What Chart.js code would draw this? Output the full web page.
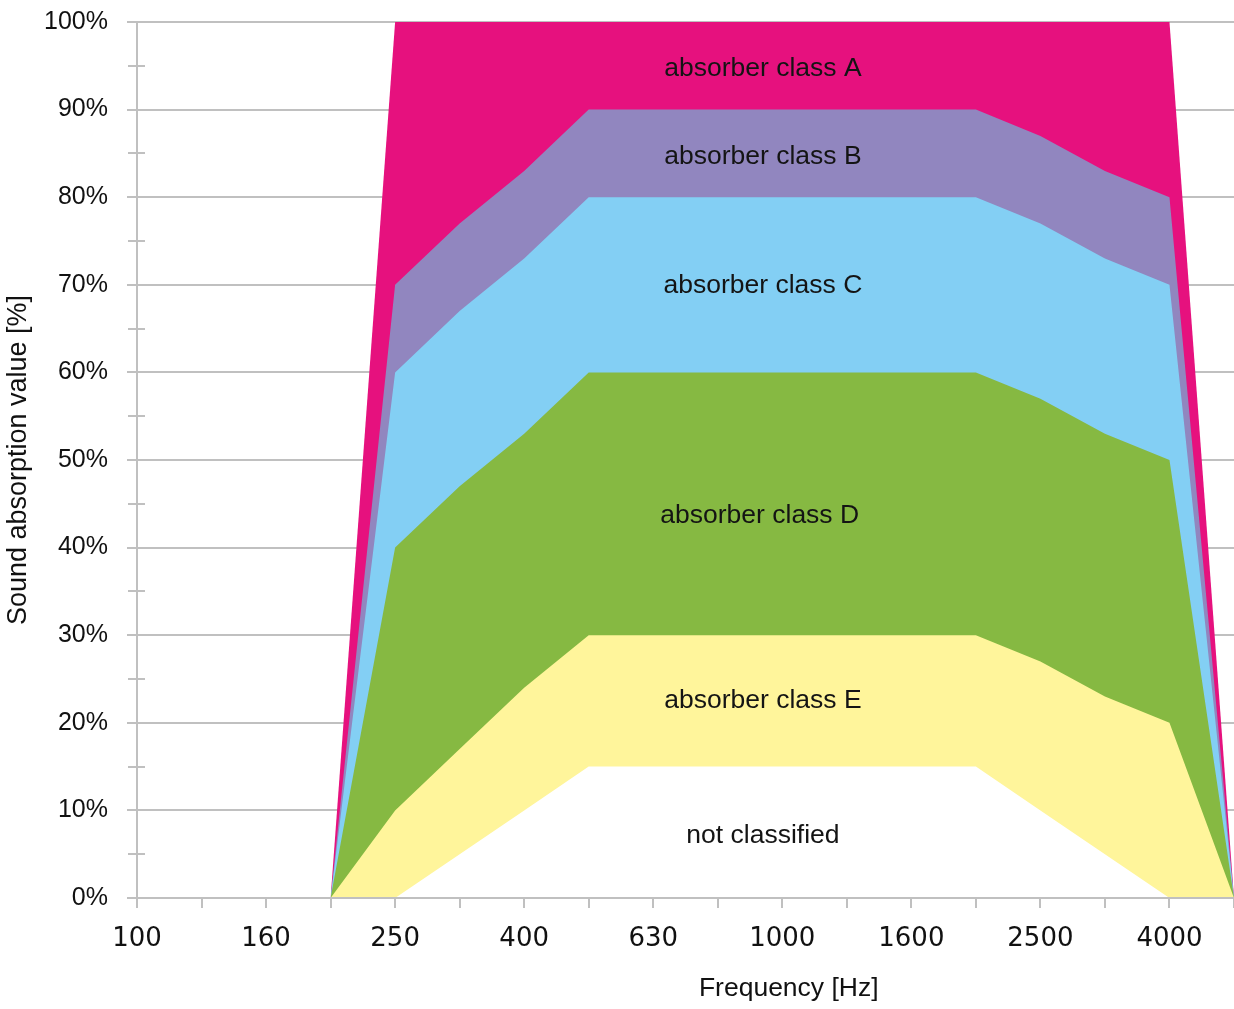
<!DOCTYPE html>
<html>
<head>
<meta charset="utf-8">
<script src="https://cdn.jsdelivr.net/npm/chart.js@4/dist/chart.umd.min.js"></script>
<style>
  html, body { margin: 0; padding: 0; background: #fff; }
  #wrap { width: 1234px; height: 1009px; }
</style>
</head>
<body>
<div id="wrap"><canvas id="chart"></canvas></div>
<script>
const freqs = ['100','125','160','200','250','315','400','500','630','800','1000','1250','1600','2000','2500','3150','4000','5000'];
const n = null;
const classA = [n,n,n,0,100,100,100,100,100,100,100,100,100,100,100,100,100,0];
const classB = [n,n,n,0,70,77,83,90,90,90,90,90,90,90,87,83,80,0];
const classC = [n,n,n,0,60,67,73,80,80,80,80,80,80,80,77,73,70,0];
const classD = [n,n,n,0,40,47,53,60,60,60,60,60,60,60,57,53,50,0];
const classE = [n,n,n,0,10,17,24,30,30,30,30,30,30,30,27,23,20,0];
const notClassified = [n,n,n,0,0,5,10,15,15,15,15,15,15,15,10,5,0,0];

// area labels: text, x (category index), y (%)
const areaTexts = ['absorber class A','absorber class B','absorber class C','absorber class D','absorber class E','not classified'];
const areaX = [9.7, 9.7, 9.7, 9.65, 9.7, 9.7];
const areaY = [94.7, 84.6, 69.9, 43.6, 22.5, 7.1];

const gridGray = '#c0c0c0';
const textFont = '"Liberation Sans", Arial, sans-serif';

function area(label, data, color) {
  return {
    label: label,
    data: data,
    backgroundColor: color,
    borderWidth: 0,
    pointRadius: 0,
    fill: 'origin',
    tension: 0,
  };
}

const areaLabels = {
  id: 'areaLabels',
  afterDatasetsDraw(chart) {
    const { ctx, scales: { x, y } } = chart;
    ctx.save();
    ctx.font = '26.5px ' + textFont;
    ctx.fillStyle = '#141414';
    ctx.textAlign = 'center';
    ctx.textBaseline = 'middle';
    areaTexts.forEach((t, i) => {
      ctx.fillText(t, x.getPixelForValue(areaX[i]), y.getPixelForValue(areaY[i]));
    });
    // x axis title, sits right of centre in the original
    ctx.fillStyle = '#111';
    ctx.fillText('Frequency [Hz]', x.getPixelForValue(10.1), 989);
    ctx.restore();
  }
};

// small minor tick marks crossing the y axis at 5, 15, ...
const minorTicks = {
  id: 'minorTicks',
  afterDraw(chart) {
    const { ctx, scales: { y } } = chart;
    ctx.save();
    ctx.strokeStyle = gridGray;
    ctx.lineWidth = 2;
    for (let v = 5; v < 100; v += 10) {
      const py = Math.round(y.getPixelForValue(v));
      ctx.beginPath();
      ctx.moveTo(y.right - 9, py);
      ctx.lineTo(y.right + 8, py);
      ctx.stroke();
    }
    ctx.restore();
  }
};

new Chart(document.getElementById('chart'), {
  type: 'line',
  data: {
    labels: freqs,
    datasets: [
      area('not classified', notClassified, '#ffffff'),
      area('absorber class E', classE, '#fff59b'),
      area('absorber class D', classD, '#86b942'),
      area('absorber class C', classC, '#83cff4'),
      area('absorber class B', classB, '#9186bf'),
      area('absorber class A', classA, '#e6117e'),
    ]
  },
  options: {
    responsive: true,
    maintainAspectRatio: false,
    animation: false,
    layout: { padding: { top: 22, right: 0, left: 0, bottom: 0 } },
    plugins: {
      legend: { display: false },
      tooltip: { enabled: false },
    },
    scales: {
      x: {
        offset: false,
        afterFit(scale) {
          scale.height = 111;
          scale.paddingLeft = 0;
          scale.paddingRight = 0;
        },
        grid: {
          drawOnChartArea: false,
          drawTicks: true,
          tickLength: 10,
          color: gridGray,
          lineWidth: 2,
        },
        border: { display: true, color: gridGray, width: 2, z: 1 },
        ticks: {
          autoSkip: false,
          maxRotation: 0,
          padding: 16,
          color: '#111',
          font: { family: '"DejaVu Sans", Verdana, sans-serif', size: 26 },
          callback: (value, index) => (index % 2 === 0 ? freqs[index] : ''),
        },
      },
      y: {
        min: 0,
        max: 100,
        afterFit(scale) {
          scale.width = 137;
          scale.paddingTop = 0;
          scale.paddingBottom = 0;
        },
        grid: {
          color: (c) => (c.tick && c.tick.value % 10 === 0 ? gridGray : 'rgba(0,0,0,0)'),
          lineWidth: 2,
          drawTicks: true,
          tickLength: 10,
        },
        border: { display: true, color: gridGray, width: 2 },
        ticks: {
          stepSize: 5,
          padding: 19,
          color: '#111',
          font: { family: textFont, size: 25 },
          callback: (v) => (v % 10 === 0 ? v + '%' : ''),
        },
        title: {
          display: true,
          text: 'Sound absorption value [%]',
          color: '#111',
          font: { family: textFont, size: 27 },
          padding: { top: 2, bottom: 0 },
        },
      }
    }
  },
  plugins: [areaLabels, minorTicks]
});
</script>
</body>
</html>
